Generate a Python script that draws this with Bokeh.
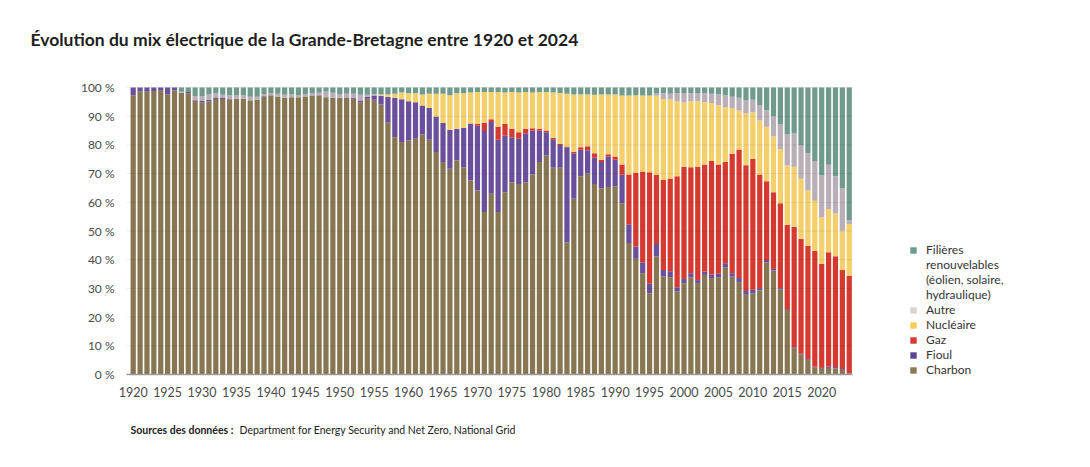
from bokeh.plotting import figure
from bokeh.models import Range1d, FixedTicker, Legend, LegendItem, Label, ColumnDataSource
from bokeh.embed import file_html
from bokeh.resources import INLINE

years = list(range(1920, 2025))

coal = [97.3, 98.7, 98.5, 98.8, 98.9, 97.6, 99.0, 98.2, 98.0, 95.5,
        94.8, 95.1, 96.0, 96.0, 95.8, 96.0, 96.0, 95.5, 95.7, 96.9,
        97.3, 96.9, 96.4, 96.6, 96.6, 96.9, 97.0, 97.1, 96.6, 96.4,
        96.4, 96.3, 96.1, 94.9, 96.1, 95.7, 94.1, 87.9, 82.7, 81.0,
        81.5, 82.1, 83.6, 81.8, 77.5, 74.0, 71.7, 74.6, 72.2, 67.6,
        64.1, 56.6, 63.0, 56.6, 63.5, 67.0, 66.4, 67.0, 69.7, 74.0,
        76.3, 72.0, 72.0, 46.1, 61.2, 69.1, 70.0, 66.4, 64.9, 65.3,
        65.5, 59.7, 45.8, 40.3, 35.3, 28.3, 41.1, 34.1, 33.9, 29.0,
        31.8, 33.9, 31.9, 34.7, 33.6, 33.9, 37.4, 34.1, 32.2, 27.8,
        28.3, 29.3, 39.1, 36.2, 29.6, 22.5, 9.2, 6.9, 5.1, 2.4,
        2.0, 2.3, 2.1, 1.6, 0.2]

oil = [2.7, 1.3, 1.5, 1.2, 1.1, 2.4, 1.0, 0.0, 0.4, 0.2,
       0.5, 0.6, 0.3, 0.3, 0.2, 0.1, 0.1, 0.1, 0.1, 0.1,
       0.0, 0.0, 0.0, 0.0, 0.0, 0.0, 0.2, 0.2, 0.0, 0.0,
       0.0, 0.2, 0.4, 0.6, 0.6, 1.5, 3.0, 8.8, 13.7, 14.9,
       13.7, 12.8, 10.1, 11.1, 12.4, 13.6, 13.6, 11.0, 13.7, 19.7,
       22.6, 28.2, 25.0, 25.2, 19.7, 15.7, 15.7, 17.1, 15.3, 11.0,
       8.1, 10.0, 8.0, 33.1, 15.9, 9.2, 8.1, 9.1, 9.1, 10.7,
       9.3, 9.9, 6.4, 4.3, 3.8, 3.3, 4.4, 2.3, 2.1, 1.4,
       1.5, 1.4, 1.0, 1.2, 1.2, 1.2, 1.4, 1.2, 1.4, 1.3,
       1.2, 0.8, 0.8, 0.6, 0.5, 0.3, 0.3, 0.3, 0.3, 0.3,
       0.3, 0.5, 0.5, 0.3, 0.2]

gas = [0.0] * 49 + [
       0.2,
       0.6, 2.9, 0.9, 4.6, 4.1, 2.9, 2.3, 1.5, 0.8, 0.6,
       0.6, 0.4, 0.4, 0.2, 0.5, 0.9, 1.4, 1.6, 0.8, 0.7,
       1.2, 3.6, 17.5, 25.6, 31.6, 38.9, 24.0, 31.4, 32.3, 38.7,
       39.1, 36.9, 39.5, 37.3, 39.6, 38.1, 35.2, 41.6, 44.8, 43.8,
       45.6, 39.6, 27.4, 26.7, 29.6, 29.4, 42.0, 40.1, 39.5, 40.4,
       36.2, 39.8, 38.6, 34.5, 34.0]

nuclear = [0.0] * 36 + [
       0.5, 0.9, 1.4, 2.4,
       2.8, 3.1, 3.9, 4.9, 7.9, 10.2, 12.0, 12.4, 12.1, 10.8,
       11.1, 10.7, 9.5, 12.0, 11.0, 12.8, 13.9, 12.8, 12.5, 12.8,
       13.4, 15.9, 17.7, 18.4, 20.0, 18.4, 18.1, 20.4, 22.8, 20.9,
       21.6, 24.0, 27.5, 27.1, 26.5, 26.7, 27.6, 28.2, 27.5, 26.1,
       22.4, 23.0, 22.8, 21.7, 20.2, 20.6, 19.2, 16.0, 13.6, 18.0,
       16.3, 18.8, 19.0, 19.4, 18.9, 20.6, 20.9, 20.9, 19.2, 17.4,
       16.3, 15.1, 14.9, 13.7, 18.0]

other = [0.0, 0.0, 0.0, 0.0, 0.0, 0.0, 0.0, 0.3, 0.0, 1.3,
         1.6, 1.9, 1.6, 1.2, 1.2, 1.3, 1.2, 1.2, 1.0, 0.7,
         0.8, 0.9, 1.1, 1.0, 0.8, 0.7, 0.7, 0.9, 2.0, 1.8,
         1.3, 1.3, 1.3, 2.0, 0.8, 0.5] + [0.0] * 40 + [
         0.8, 2.0, 2.0, 2.8,
         3.1, 2.8, 2.8, 3.1, 3.2, 3.8, 4.1, 3.9, 4.4, 4.6,
         4.3, 5.2, 5.8, 7.0, 8.7, 10.8, 11.6, 11.6, 13.0, 13.9,
         14.5, 15.4, 13.0, 14.9, 1.4]

renew = [0.0, 0.0, 0.0, 0.0, 0.0, 0.0, 0.0, 1.5, 1.6, 3.0,
         3.1, 2.4, 2.1, 2.5, 2.8, 2.6, 2.7, 3.2, 3.2, 2.3,
         1.9, 2.2, 2.5, 2.4, 2.6, 2.4, 2.1, 1.8, 1.4, 1.8,
         2.3, 2.2, 2.2, 2.5, 2.5, 2.3, 2.4, 2.4, 2.2, 1.7,
         2.0, 2.0, 2.4, 2.2, 2.2, 2.2, 2.7, 2.0, 2.0, 1.7,
         1.6, 1.6, 1.6, 1.6, 1.6, 1.6, 1.7, 1.6, 1.7, 1.6,
         1.6, 1.7, 1.9, 2.2, 2.4, 2.4, 2.4, 2.5, 2.4, 2.4,
         2.4, 2.8, 2.8, 2.7, 2.8, 2.8, 2.0, 2.0, 2.2, 2.0,
         2.1, 2.0, 2.0, 2.0, 2.2, 2.4, 2.7, 3.2, 3.6, 4.5,
         4.3, 6.3, 7.9, 10.1, 12.7, 16.4, 16.0, 20.2, 22.9, 25.6,
         30.7, 26.9, 30.9, 35.0, 46.2]

series = ["coal", "oil", "gas", "nuclear", "other", "renew"]
bar_colors = ["#877651", "#6a509c", "#d6392f", "#f5cf6c", "#baaeb8", "#6f9a8c"]
# legend rows, top to bottom (the first entry wraps over four lines)
legend_labels = [["Filières", "renouvelables", "(éolien, solaire,", "hydraulique)"],
                 ["Autre"], ["Nucléaire"], ["Gaz"], ["Fioul"], ["Charbon"]]
legend_colors = ["#6c9a8b", "#dbd5d0", "#f5cc5a", "#d63a30", "#5f4595", "#8a7a55"]
x_ticks = list(range(1920, 2021, 5))
y_ticks = list(range(0, 101, 10))

source = ColumnDataSource(dict(year=years, coal=coal, oil=oil, gas=gas,
                               nuclear=nuclear, other=other, renew=renew))

W, H = 1088, 460
PX_YEAR = 6.885          # pixels per year
PX_PCT = 2.87            # pixels per percent
X0_PAGE = 132.7          # page x of the 1920 bar centre
Y0_PAGE = 374.0          # page y of 0 %
x_start = 1920 - X0_PAGE / PX_YEAR
y_start = -(H - Y0_PAGE) / PX_PCT

p = figure(width=W, height=H,
           x_range=Range1d(x_start, x_start + W / PX_YEAR),
           y_range=Range1d(y_start, y_start + H / PX_PCT),
           output_backend="svg", toolbar_location=None,
           min_border=0)
p.outline_line_color = None
p.background_fill_color = "white"
p.border_fill_color = "white"

p.vbar_stack(series, x="year", width=0.76, source=source,
             fill_color=bar_colors, line_color=None)

left_edge = 1920 - 0.97
right_edge = 2024.48

# faint horizontal guide lines over the bars, one per y tick
p.segment(x0=left_edge, x1=right_edge, y0=y_ticks[1:], y1=y_ticks[1:],
          line_color="#000000", line_alpha=0.07, line_width=1)

# axes drawn at fixed positions inside the frame
p.yaxis.fixed_location = left_edge
p.yaxis.bounds = (0, 100)
p.yaxis.ticker = FixedTicker(ticks=y_ticks)
p.yaxis.major_label_overrides = {v: f"{v} %" for v in y_ticks}
p.yaxis.axis_line_color = None
p.yaxis.major_tick_line_color = None
p.yaxis.minor_tick_line_color = None
p.yaxis.major_label_standoff = 6
p.yaxis.major_label_text_font = "Lato"
p.yaxis.major_label_text_font_size = "12px"
p.yaxis.major_label_text_color = "#4a4a4a"

p.xaxis.fixed_location = 0
p.xaxis.bounds = (left_edge, right_edge)
p.xaxis.ticker = FixedTicker(ticks=x_ticks)
p.xaxis.axis_line_color = "#9a9a9a"
p.xaxis.axis_line_width = 1.5
p.xaxis.major_tick_line_color = None
p.xaxis.minor_tick_line_color = None
p.xaxis.major_label_standoff = 6
p.xaxis.major_label_text_font = "Lato"
p.xaxis.major_label_text_font_size = "12.5px"
p.xaxis.major_label_text_color = "#4a4a4a"

p.grid.visible = False

# legend (swatches from renderers holding no visible data)
nan = float("nan")
items = []
for lines, col in zip(legend_labels, legend_colors):
    for i, line in enumerate(lines):
        r = p.quad(left=[nan], right=[nan], top=[nan], bottom=[nan],
                   fill_color=col, fill_alpha=1.0 if i == 0 else 0.0, line_color=None)
        items.append(LegendItem(label=line, renderers=[r]))
legend = Legend(items=items, location=(909, H - 377), padding=0, margin=0, spacing=0,
                glyph_width=8, glyph_height=8, label_standoff=9, label_height=15,
                label_text_font="Lato", label_text_font_size="12px",
                label_text_color="#333333",
                border_line_color=None, background_fill_alpha=0)
p.add_layout(legend, "center")

# title and source
p.add_layout(Label(x=30, y=H - 39, x_units="screen", y_units="screen",
                   text="Évolution du mix électrique de la Grande-Bretagne entre 1920 et 2024",
                   text_font="Lato", text_font_style="bold", text_font_size="17.5px",
                   text_color="#1e1e1e", text_baseline="alphabetic"))
p.add_layout(Label(x=130, y=H - 429, x_units="screen", y_units="screen",
                   text="Sources des données :", text_font="Lato",
                   text_font_style="bold", text_font_size="10.5px",
                   text_color="#222222", text_baseline="alphabetic"))
p.add_layout(Label(x=239, y=H - 429, x_units="screen", y_units="screen",
                   text="Department for Energy Security and Net Zero, National Grid",
                   text_font="Lato", text_font_size="10.5px",
                   text_color="#222222", text_baseline="alphabetic"))

open("out.html", "w").write(file_html(p, INLINE))
